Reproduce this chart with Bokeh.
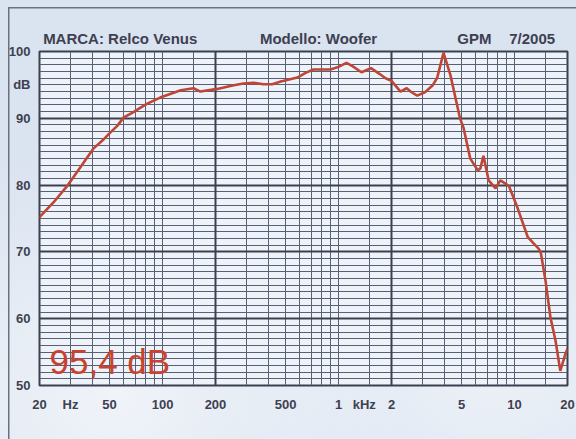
from bokeh.plotting import figure
from bokeh.models import FixedTicker, Grid, Label, Range1d, LogAxis
from bokeh.embed import file_html
from bokeh.resources import INLINE

# Frequency response data (Hz, dB)
freq = [20, 24, 29, 34, 40.6, 45.7, 50.6, 55.5, 60, 68, 75, 82, 97, 127, 150, 164,
        205, 250, 288, 330, 374, 420, 470, 584, 650, 720, 800, 900, 1000, 1110,
        1200, 1350, 1530, 1700, 1850, 2000, 2250, 2440, 2600, 2800, 3100, 3420,
        3640, 3950, 4320, 4900, 5130, 5600, 6180, 6400, 6660, 7130, 7800, 8300,
        9280, 10400, 11900, 12800, 13700, 14100, 15000, 16000, 17100, 18200,
        19500, 20000]
spl = [75.2, 77.4, 80.0, 82.6, 85.5, 86.7, 87.9, 88.9, 90.1, 90.9, 91.6, 92.2, 93.1,
       94.2, 94.5, 94.0, 94.4, 94.9, 95.2, 95.3, 95.1, 95.1, 95.5, 96.1, 96.8, 97.3,
       97.3, 97.3, 97.7, 98.3, 97.8, 96.9, 97.5, 96.7, 96.0, 95.6, 94.0, 94.5, 93.9,
       93.4, 93.9, 94.9, 96.1, 99.8, 96.5, 90.0, 88.6, 84.0, 82.2, 82.5, 84.4, 80.7,
       79.5, 80.7, 79.9, 76.6, 72.2, 71.3, 70.5, 69.9, 65.7, 60.2, 56.7, 52.2, 54.8,
       55.5]

x_tick_values = [20, 30, 50, 100, 200, 500, 1000, 1400, 2000, 5000, 10000, 20000]
x_tick_labels = ["20", "Hz", "50", "100", "200", "500", "1", "kHz", "2", "5", "10", "20"]
y_tick_values = [50, 60, 70, 80, 90, 95, 100]
y_tick_labels = ["50", "60", "70", "80", "90", "dB", "100"]

x_grid_minor = [20, 30, 40, 50, 60, 70, 80, 90, 100, 150, 200, 300, 400, 500, 600, 700,
                800, 900, 1000, 1500, 2000, 3000, 4000, 5000, 6000, 7000, 8000, 9000,
                10000, 15000, 20000]
x_grid_major = [20, 200, 2000, 20000]
y_grid_minor = list(range(50, 101))
y_grid_major = [50, 60, 70, 80, 90, 100]

header_texts = ["MARCA: Relco Venus", "Modello: Woofer", "GPM", "7/2005"]
header_anchor_hz = [57.5, 770, 5920, 12600]
sensitivity = "95,4 dB"

W, H = 576, 439
p = figure(width=W, height=H, x_axis_type="log", output_backend="svg",
           toolbar_location=None, x_range=Range1d(20, 20000), y_range=Range1d(50, 100),
           min_border_left=39, min_border_right=9, min_border_top=51, min_border_bottom=54)
p.border_fill_alpha = 0
p.styles = {
    "background": (
        "linear-gradient(#6b7080, #6b7080) 8px 7px / 1.5px 440px no-repeat, "
        "linear-gradient(#6b7080, #6b7080) 8px 7px / 570px 1.5px no-repeat, "
        "radial-gradient(ellipse at 20% 90%, rgba(255,255,255,0.6), rgba(255,255,255,0) 45%), "
        "radial-gradient(ellipse at 85% 85%, rgba(255,255,255,0.5), rgba(255,255,255,0) 40%), "
        "#dae3f0"
    )
}
p.background_fill_color = "#eef2f9"
p.outline_line_color = "#3b4050"
p.outline_line_width = 2

grid_thin = "#596076"
grid_thick = "#3b4050"
p.xgrid[0].ticker = FixedTicker(ticks=x_grid_minor)
p.xgrid[0].grid_line_color = grid_thin
p.xgrid[0].grid_line_width = 1
p.ygrid[0].ticker = FixedTicker(ticks=y_grid_minor)
p.ygrid[0].grid_line_color = grid_thin
p.ygrid[0].grid_line_width = 1
p.add_layout(Grid(dimension=0, ticker=FixedTicker(ticks=x_grid_major),
                  grid_line_color=grid_thick, grid_line_width=2))
p.add_layout(Grid(dimension=1, ticker=FixedTicker(ticks=y_grid_major),
                  grid_line_color=grid_thick, grid_line_width=2))

label_color = "#3e4050"


def style_axis(ax, vals, labs, size):
    ax.ticker = FixedTicker(ticks=vals)
    ax.major_label_overrides = {v: s for v, s in zip(vals, labs)}
    ax.axis_line_color = None
    ax.major_tick_line_color = None
    ax.minor_tick_line_color = None
    ax.major_label_text_font = "Liberation Sans"
    ax.major_label_text_font_style = "bold"
    ax.major_label_text_font_size = size
    ax.major_label_text_color = label_color


style_axis(p.xaxis[0], x_tick_values, x_tick_labels, "13px")
style_axis(p.yaxis[0], y_tick_values, y_tick_labels, "13px")
p.xaxis[0].major_label_standoff = 5
p.yaxis[0].major_label_standoff = 3

top_axis = LogAxis()
style_axis(top_axis, header_anchor_hz, header_texts, "15px")
top_axis.major_label_standoff = -1
p.add_layout(top_axis, "above")

p.line(freq, spl, line_color="#bd4636", line_width=2.6)

p.add_layout(Label(x=22.8, y=53.6, text=sensitivity, text_font="Liberation Sans",
                   text_font_size="35px", text_color="#c8432f",
                   text_baseline="middle"))

open("out.html", "w").write(file_html(p, INLINE))
